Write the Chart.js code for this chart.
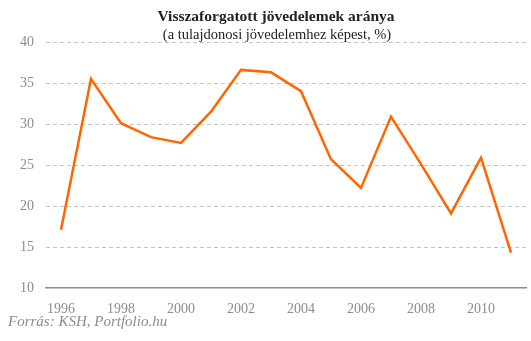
<!DOCTYPE html>
<html>
<head>
<meta charset="utf-8">
<script src="https://cdn.jsdelivr.net/npm/chart.js@4"></script>
<style>
  html, body { margin: 0; padding: 0; background: #fff; }
  #wrap { width: 531px; height: 341px; }
</style>
</head>
<body>
<div id="wrap"><canvas id="chart"></canvas></div>
<script>
var years = ['1996', '1997', '1998', '1999', '2000', '2001', '2002', '2003',
             '2004', '2005', '2006', '2007', '2008', '2009', '2010', '2011'];
var ratio = [17.1, 35.5, 30.1, 28.4, 27.7, 31.5, 36.6, 36.3,
             34.0, 25.7, 22.2, 30.9, 25.1, 19.1, 25.9, 14.3];
var yTicks = [10, 15, 20, 25, 30, 35, 40];

var serif = "'Liberation Serif', 'DejaVu Serif', serif";

// heading above the plot and source line under the x axis
var textBlocks = {
  id: 'textBlocks',
  afterDraw: function(chart) {
    var c = chart.ctx;
    c.save();
    c.textBaseline = 'middle';
    c.textAlign = 'center';
    c.fillStyle = '#222';
    c.font = 'bold 15.5px ' + serif;
    c.fillText('Visszaforgatott jövedelemek aránya', 276, 17);
    c.font = '14.5px ' + serif;
    c.fillText('(a tulajdonosi jövedelemhez képest, %)', 277, 35);

    c.font = 'italic 15px ' + serif;
    c.fillStyle = '#8c8c8c';
    c.textAlign = 'left';
    c.fillText('Forrás: KSH, Portfolio.hu', 8, 322);
    c.restore();
  }
};

document.addEventListener('DOMContentLoaded', function() {
  var ctx = document.getElementById('chart').getContext('2d');
  new Chart(ctx, {
    type: 'line',
    data: {
      labels: years,
      datasets: [{
        data: ratio,
        borderColor: '#ff6600',
        borderWidth: 2.5,
        pointRadius: 0,
        tension: 0,
        fill: false
      }]
    },
    options: {
      responsive: true,
      maintainAspectRatio: false,
      animation: false,
      layout: { padding: { left: 0, right: 5, top: 42, bottom: 0 } },
      plugins: {
        legend: { display: false },
        tooltip: { enabled: false }
      },
      scales: {
        x: {
          offset: true,
          grid: { display: false },
          border: { display: true, color: '#8c8c8c', width: 1.5 },
          ticks: {
            color: '#8c8c8c',
            font: { family: serif, size: 14 },
            padding: 5,
            autoSkip: false,
            maxRotation: 0,
            callback: function(value, index) {
              return index % 2 === 0 ? years[index] : '';
            }
          },
          afterFit: function(scale) { scale.height = 53; }
        },
        y: {
          min: 10,
          max: 40,
          afterBuildTicks: function(scale) {
            scale.ticks = yTicks.map(function(v) { return { value: v }; });
          },
          border: { display: false, dash: [4, 3] },
          grid: {
            color: function(c) { return c.tick && c.tick.value === 10 ? 'rgba(0,0,0,0)' : '#c4c4c4'; },
            drawTicks: false
          },
          ticks: {
            color: '#8c8c8c',
            font: { family: serif, size: 14 },
            padding: 12
          },
          afterFit: function(scale) { scale.width = 46; }
        }
      }
    },
    plugins: [textBlocks]
  });
});
</script>
</body>
</html>
